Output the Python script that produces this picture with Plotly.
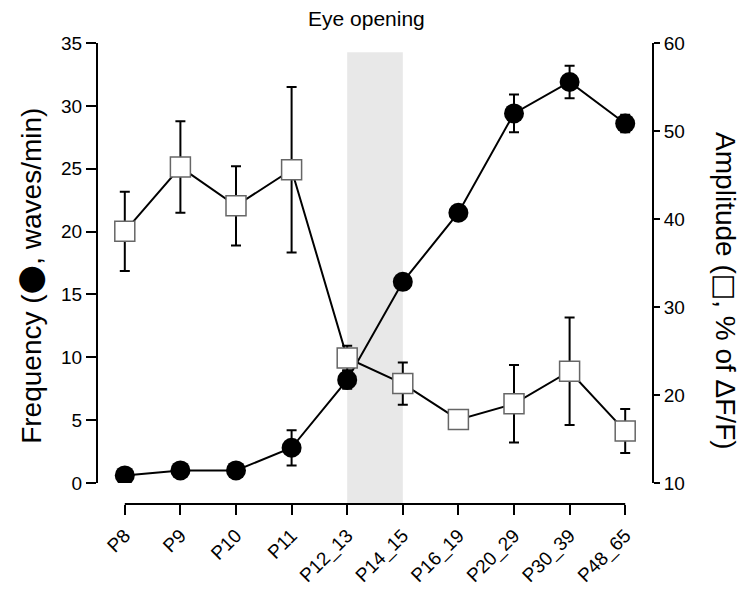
import plotly.graph_objects as go

categories = ["P8", "P9", "P10", "P11", "P12_13", "P14_15", "P16_19", "P20_29", "P30_39", "P48_65"]
frequency = [0.6, 1.0, 1.0, 2.8, 8.2, 16.0, 21.5, 29.4, 31.9, 28.6]
frequency_err = [0.2, 0.2, 0.2, 1.4, 0.7, 0.3, 0.4, 1.5, 1.3, 0.7]
amplitude = [38.6, 45.9, 41.5, 45.6, 24.2, 21.3, 17.2, 19.0, 22.7, 15.9]
amplitude_err = [4.5, 5.2, 4.5, 9.4, 1.4, 2.4, 0.3, 4.4, 6.1, 2.5]
left_ticks = [0, 5, 10, 15, 20, 25, 30, 35]
right_ticks = [10, 20, 30, 40, 50, 60]
shade_span = ["P12_13", "P14_15"]

FONT = "Liberation Sans, Arial, sans-serif"
idx = list(range(len(categories)))

fig = go.Figure()
fig.add_trace(go.Scatter(
    x=idx, y=frequency, mode="lines+markers",
    line=dict(color="black", width=2),
    marker=dict(symbol="circle", size=20, color="black"),
    error_y=dict(type="data", array=frequency_err, color="black", thickness=2, width=5),
    showlegend=False, yaxis="y",
))
fig.add_trace(go.Scatter(
    x=idx, y=amplitude, mode="lines+markers",
    line=dict(color="black", width=2),
    marker=dict(symbol="square", size=20, color="white", line=dict(color="#666666", width=1.5)),
    error_y=dict(type="data", array=amplitude_err, color="black", thickness=2, width=5),
    showlegend=False, yaxis="y2",
))

s0 = categories.index(shade_span[0])
s1 = categories.index(shade_span[1])
fig.add_shape(type="rect", xref="x", yref="paper", x0=s0, x1=s1, y0=0, y1=0.98,
              fillcolor="#e8e8e8", line=dict(width=0), layer="below")
fig.add_shape(type="line", xref="x", yref="paper", x0=0, x1=len(categories) - 1, y0=0, y1=0,
              line=dict(color="black", width=2))

ydom = [0.0456, 1]
fig.update_layout(
    width=742, height=589,
    margin=dict(l=97, r=89, t=43, b=85, autoexpand=False),
    paper_bgcolor="white", plot_bgcolor="white",
    font=dict(family=FONT, size=19, color="black"),
    xaxis=dict(
        tickmode="array", tickvals=idx, ticktext=categories,
        range=[-0.5, len(categories) - 0.5],
        showline=False, showgrid=False, zeroline=False,
        ticks="outside", ticklen=10, tickwidth=2, tickcolor="black",
        tickangle=-45, anchor="free", position=0,
        tickfont=dict(size=19), ticklabelstandoff=2, automargin=False,
    ),
    yaxis=dict(
        domain=ydom, range=[0, 35], tickvals=left_ticks,
        showline=True, linewidth=2, linecolor="black",
        ticks="outside", ticklen=10, tickwidth=2, tickcolor="black",
        showgrid=False, zeroline=False, anchor="free", position=0, automargin=False,
    ),
    yaxis2=dict(
        domain=ydom, range=[10, 60], tickvals=right_ticks,
        overlaying="y", side="right",
        showline=True, linewidth=2, linecolor="black",
        ticks="outside", ticklen=6, tickwidth=2, tickcolor="black",
        showgrid=False, zeroline=False, anchor="free", position=1, automargin=False,
    ),
    annotations=[
        dict(text="Eye opening", xref="paper", yref="paper", x=0.485, y=1.0, yshift=25,
             showarrow=False, font=dict(size=21), xanchor="center", yanchor="middle"),
        dict(text="Frequency (<span style=\"font-family:DejaVu Sans;font-size:34px\">\u25cf</span>, waves/min)",
             xref="paper", yref="paper", x=0, xshift=-68,
             y=0.495, textangle=-90, showarrow=False, font=dict(size=28),
             xanchor="center", yanchor="middle"),
        dict(text="Amplitude (<span style=\"font-family:DejaVu Sans\">\u25a1</span>, % of \u0394F/F)",
             xref="paper", yref="paper", x=1, xshift=73,
             y=0.464, textangle=90, showarrow=False, font=dict(size=28),
             xanchor="center", yanchor="middle"),
    ],
)

fig.write_html("out.html")
